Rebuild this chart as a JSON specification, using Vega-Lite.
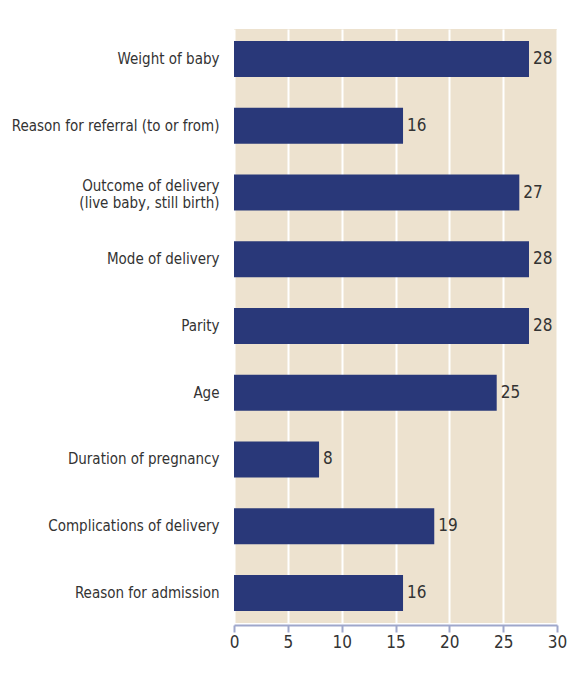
{
  "$schema": "https://vega.github.io/schema/vega-lite/v6.json",
  "width": 323,
  "height": 594,
  "autosize": {"type": "none"},
  "padding": {"left": 234, "top": 29, "right": 10, "bottom": 50},
  "background": "white",
  "config": {
    "font": "DejaVu Sans Condensed, Open Sans, sans-serif",
    "view": {"fill": "#ede2cf", "stroke": null}
  },
  "data": {
    "values": [
      {"item": "Weight of baby", "value": 27.4, "label": "28"},
      {"item": "Reason for referral (to or from)", "value": 15.7, "label": "16"},
      {"item": "Outcome of delivery|(live baby, still birth)", "value": 26.5, "label": "27"},
      {"item": "Mode of delivery", "value": 27.4, "label": "28"},
      {"item": "Parity", "value": 27.4, "label": "28"},
      {"item": "Age", "value": 24.4, "label": "25"},
      {"item": "Duration of pregnancy", "value": 7.9, "label": "8"},
      {"item": "Complications of delivery", "value": 18.6, "label": "19"},
      {"item": "Reason for admission", "value": 15.7, "label": "16"}
    ]
  },
  "encoding": {
    "y": {
      "field": "item",
      "type": "nominal",
      "sort": null,
      "scale": {"paddingInner": 0.46, "paddingOuter": 0.18},
      "axis": {
        "title": null,
        "domain": false,
        "ticks": false,
        "labelPadding": 15,
        "labelFontSize": 15,
        "labelColor": "#333333",
        "labelLimit": 300,
        "labelExpr": "split(datum.label, '|')",
        "labelLineHeight": 17,
        "labelOffset": {"condition": {"test": "indexof(datum.value, '|') >= 0", "value": -7}, "value": 0}
      }
    }
  },
  "layer": [
    {
      "mark": {"type": "bar", "color": "#293879"},
      "encoding": {
        "x": {
          "field": "value",
          "type": "quantitative",
          "scale": {"domain": [0, 30], "nice": false},
          "axis": {
            "title": null,
            "values": [0, 5, 10, 15, 20, 25, 30],
            "grid": true,
            "gridColor": "white",
            "gridWidth": 2,
            "gridOpacity": 1,
            "domainColor": "#9fa7cb",
            "domainWidth": 2,
            "tickColor": "#9fa7cb",
            "tickWidth": 2,
            "tickSize": 7,
            "labelFontSize": 17,
            "labelColor": "#333333",
            "labelPadding": 2,
            "labelFlush": false,
            "offset": 2
          }
        }
      }
    },
    {
      "mark": {"type": "text", "align": "left", "dx": 4, "fontSize": 17, "color": "#333333"},
      "encoding": {
        "x": {"field": "value", "type": "quantitative"},
        "text": {"field": "label"}
      }
    }
  ]
}
